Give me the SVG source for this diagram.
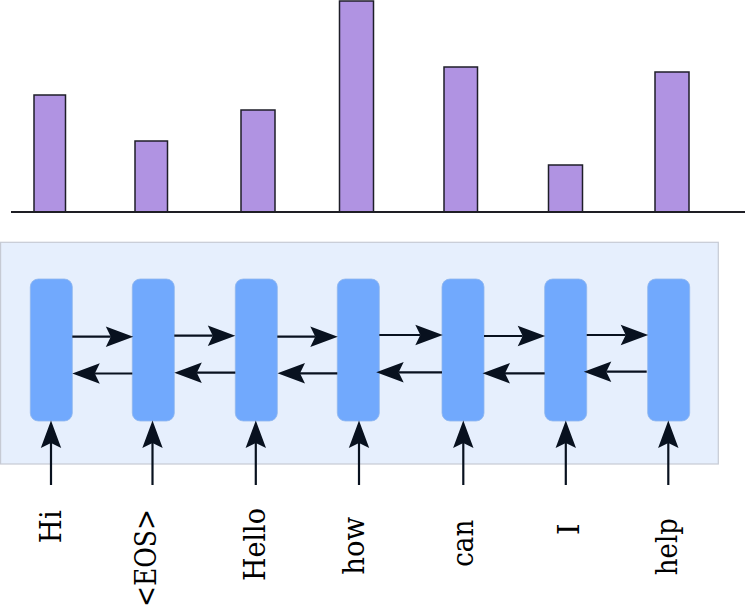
<svg xmlns="http://www.w3.org/2000/svg" width="745" height="605" viewBox="0 0 745 605">
<style>
.bar{fill:#b093e2;stroke:#1e1e28;stroke-width:1.5}
.axis{stroke:#1e1e24;stroke-width:2.2}
.panel{fill:#e6effd;stroke:#c6cad4;stroke-width:1.2}
.node{fill:#71a9fd;stroke:#8fb6ee;stroke-width:0.8}
.conn{stroke:#08111f;stroke-width:2.2;fill:none;marker-end:url(#ah)}
.lbl{font-family:'DejaVu Serif','Liberation Serif',serif;font-size:30px;fill:#000}
</style>
<defs>
<marker id="ah" markerUnits="userSpaceOnUse" markerWidth="40" markerHeight="40" refX="5" refY="20" orient="auto" overflow="visible">
<path d="M27.5,20 L0,9.8 L5,20 L0,30.2 Z" fill="#08111f"/>
</marker>
</defs>
<g id="chart">
<rect class="bar" x="34" y="95" width="31.5" height="117"/>
<rect class="bar" x="135" y="141" width="32.5" height="71"/>
<rect class="bar" x="241" y="110" width="34" height="102"/>
<rect class="bar" x="339.5" y="1" width="34" height="211"/>
<rect class="bar" x="444" y="67" width="33.5" height="145"/>
<rect class="bar" x="548.5" y="165" width="34" height="47"/>
<rect class="bar" x="655" y="72" width="34" height="140"/>
<line class="axis" x1="11" y1="212" x2="745" y2="212"/>
</g>
<rect id="panel" class="panel" x="0.6" y="242.3" width="717.7" height="221.7"/>
<g id="node1"><rect class="node" x="30.3" y="279" width="42" height="142" rx="8"/></g>
<g id="node2"><rect class="node" x="132.3" y="279" width="42" height="142" rx="8"/></g>
<g id="node3"><rect class="node" x="235.3" y="279" width="42" height="142" rx="8"/></g>
<g id="node4"><rect class="node" x="337.3" y="279" width="42" height="142" rx="8"/></g>
<g id="node5"><rect class="node" x="442" y="279" width="42" height="142" rx="8"/></g>
<g id="node6"><rect class="node" x="544.7" y="279" width="42" height="142" rx="8"/></g>
<g id="node7"><rect class="node" x="647.7" y="279" width="42" height="142" rx="8"/></g>
<g id="connectors">
<line class="conn" x1="72.3" y1="336.7" x2="110.8" y2="336.7"/>
<line class="conn" x1="132.3" y1="373.5" x2="94.8" y2="373.5"/>
<line class="conn" x1="174.3" y1="335.7" x2="212.8" y2="335.7"/>
<line class="conn" x1="235.3" y1="372.7" x2="196.8" y2="372.7"/>
<line class="conn" x1="277.3" y1="336.7" x2="315.3" y2="336.7"/>
<line class="conn" x1="337.3" y1="373.3" x2="300" y2="373.3"/>
<line class="conn" x1="379.3" y1="335" x2="420.3" y2="335"/>
<line class="conn" x1="442" y1="372.3" x2="398.7" y2="372.3"/>
<line class="conn" x1="484" y1="336" x2="522.7" y2="336"/>
<line class="conn" x1="544.7" y1="373.3" x2="505" y2="373.3"/>
<line class="conn" x1="586.7" y1="335" x2="625.7" y2="335"/>
<line class="conn" x1="646.7" y1="371.7" x2="606.3" y2="371.7"/>
<line class="conn" x1="51" y1="485" x2="51" y2="443"/>
<line class="conn" x1="152.5" y1="485" x2="152.5" y2="443"/>
<line class="conn" x1="255.8" y1="485" x2="255.8" y2="443"/>
<line class="conn" x1="359" y1="485" x2="359" y2="443"/>
<line class="conn" x1="463.3" y1="485" x2="463.3" y2="443"/>
<line class="conn" x1="565.8" y1="485" x2="565.8" y2="443"/>
<line class="conn" x1="668.3" y1="485" x2="668.3" y2="443"/>
</g>
<g id="labels">
<text class="lbl" text-anchor="middle" textLength="33" lengthAdjust="spacingAndGlyphs" transform="translate(60.5,526.7) rotate(-90)">Hi</text>
<text class="lbl" text-anchor="end" textLength="98" lengthAdjust="spacingAndGlyphs" transform="translate(155.5,509) rotate(-90)">&lt;EOS&gt;</text>
<text class="lbl" text-anchor="middle" textLength="73" lengthAdjust="spacingAndGlyphs" transform="translate(265,544.5) rotate(-90)">Hello</text>
<text class="lbl" text-anchor="middle" textLength="58" lengthAdjust="spacingAndGlyphs" transform="translate(364,545.8) rotate(-90)">how</text>
<text class="lbl" text-anchor="middle" textLength="47" lengthAdjust="spacingAndGlyphs" transform="translate(473.3,543.3) rotate(-90)">can</text>
<text class="lbl" text-anchor="middle" textLength="12" lengthAdjust="spacingAndGlyphs" transform="translate(579.3,529.2) rotate(-90)">I</text>
<text class="lbl" text-anchor="middle" textLength="57" lengthAdjust="spacingAndGlyphs" transform="translate(676.5,546.7) rotate(-90)">help</text>
</g>
</svg>
